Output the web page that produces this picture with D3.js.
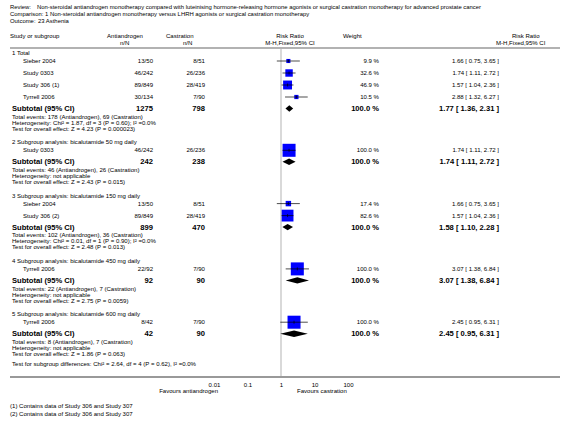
<!DOCTYPE html>
<html><head><meta charset="utf-8">
<script src="https://cdn.jsdelivr.net/npm/d3@7"></script>
<style>body{margin:0;background:#fff} svg text{font-family:"Liberation Sans",Arial,Helvetica,sans-serif;fill:#000}</style>
</head><body><svg id="c" width="566" height="422"></svg>
<script>
// ---------- data ----------
const headerLines = [
  ["Review:", "Non-steroidal antiandrogen monotherapy compared with luteinising hormone-releasing hormone agonists or surgical castration monotherapy for advanced prostate cancer"],
  ["Comparison:", "1 Non-steroidal antiandrogen monotherapy versus LHRH agonists or surgical castration monotherapy"],
  ["Outcome:", "23 Asthenia"]
];
const groupTitles = ["1 Total","2 Subgroup analysis: bicalutamide 50 mg daily","3 Subgroup analysis: bicalutamide 150 mg daily","4 Subgroup analysis: bicalutamide 450 mg daily","5 Subgroup analysis: bicalutamide 600 mg daily"];
const studyNames = ["Sieber 2004","Study 0303","Study 306 (1)","Tyrrell 2006","Study 0303","Sieber 2004","Study 306 (2)","Tyrrell 2006","Tyrrell 2006"];
const studyGroup = [0,0,0,0,1,2,2,3,4];
const antiEvents = [13,46,89,30,46,13,89,22,8];
const antiTotal = [50,242,849,134,242,50,849,92,42];
const castEvents = [8,26,28,7,26,8,28,7,7];
const castTotal = [51,236,419,90,236,51,419,90,90];
const weights = [9.9,32.6,46.9,10.5,100,17.4,82.6,100,100];
const rr = [1.66,1.74,1.57,2.88,1.74,1.66,1.57,3.07,2.45];
const rrLow = [0.75,1.11,1.04,1.32,1.11,0.75,1.04,1.38,0.95];
const rrHigh = [3.65,2.72,2.36,6.27,2.72,3.65,2.36,6.84,6.31];
const subAntiTotal = [1275,242,899,92,42];
const subCastTotal = [798,238,470,90,90];
const subWeight = [100,100,100,100,100];
const subRR = [1.77,1.74,1.58,3.07,2.45];
const subLow = [1.36,1.11,1.10,1.38,0.95];
const subHigh = [2.31,2.72,2.28,6.84,6.31];
const subAntiEvents = [178,46,102,22,8];
const subCastEvents = [69,26,36,7,7];
const heterogeneity = ["Chi² = 1.87, df = 3 (P = 0.60); I² =0.0%","not applicable","Chi² = 0.01, df = 1 (P = 0.90); I² =0.0%","not applicable","not applicable"];
const overallZ = ["4.23","2.43","2.48","2.75","1.86"];
const overallP = ["0.000023","0.015","0.013","0.0059","0.063"];
const subgroupDiff = "Test for subgroup differences: Chi² = 2.64, df = 4 (P = 0.62), I² =0.0%";
const axisTicks = [0.01,0.1,1,10,100];
const tickLabels = ["0.01","0.1","1","10","100"];
const favourLabels = ["Favours antiandrogen","Favours castration"];
const footnotes = ["(1) Contains data of Study 306 and Study 307","(2) Contains data of Study 306 and Study 307"];

// ---------- layout ----------
const svg = d3.select("#c");
const FS = 6.05, FB = 7.6, FH = 5.9;
const x = d3.scaleLog().domain([0.01,100]).range([214,348]);
const f2 = d3.format(".2f"), f1 = d3.format(".1f");
const C = {study:10, name:23, grp:12, anti:153, cast:205, weight:379, rrtxt:499};

function txt(xx, yy, s, opt={}) {
  return svg.append("text").attr("x",xx).attr("y",yy).attr("dy","0.35em")
    .attr("font-size", opt.size||FS).attr("font-weight", opt.bold?"bold":"normal")
    .attr("text-anchor", opt.anchor||"start").text(s);
}

// header
headerLines.forEach((h,i)=>{
  const y = 7 + i*7;
  txt(10,y,h[0],{size:FH});
  txt(i===0?37:(i===1?45:38),y,h[1],{size:FH});
});
txt(10,36,"Study or subgroup");
txt(107,36,"Antiandrogen");
txt(120,43,"n/N");
txt(166,36,"Castration");
txt(183,43,"n/N");
txt(290,36,"Risk Ratio",{anchor:"middle"});
txt(290,43,"M-H,Fixed,95% CI",{anchor:"middle"});
txt(343,36,"Weight");
txt(512,36,"Risk Ratio");
txt(496,43,"M-H,Fixed,95% CI");
svg.append("line").attr("x1",10).attr("x2",560).attr("y1",48).attr("y2",48).attr("stroke","#999").attr("stroke-width",1.6);

// compute row positions
let y = 53;
const studyY = [], subY = [], headY = [], textY = [];
groupTitles.forEach((g,gi)=>{
  headY[gi] = y;
  let sy = y + 8;
  studyGroup.forEach((sg,si)=>{ if(sg===gi){ studyY[si]=sy; sy+=12; } });
  subY[gi] = sy - 12 + 11.5;
  textY[gi] = [subY[gi]+8, subY[gi]+14, subY[gi]+20];
  y = subY[gi] + 33.8;
});
const diffY = textY[4][2] + 10;

// vertical line at RR = 1
svg.append("line").attr("x1",x(1)).attr("x2",x(1)).attr("y1",49).attr("y2",376).attr("stroke","#d9d9d9").attr("stroke-width",2);

// group headings and text
groupTitles.forEach((g,gi)=>{
  txt(C.grp, headY[gi], g);
  txt(C.grp, subY[gi], "Subtotal (95% CI)", {bold:true,size:FB});
  txt(C.anti, subY[gi], subAntiTotal[gi], {bold:true,size:FB,anchor:"end"});
  txt(C.cast, subY[gi], subCastTotal[gi], {bold:true,size:FB,anchor:"end"});
  txt(C.weight, subY[gi], f1(subWeight[gi])+" %", {bold:true,size:FB,anchor:"end"});
  txt(C.rrtxt, subY[gi], `${f2(subRR[gi])} [ ${f2(subLow[gi])}, ${f2(subHigh[gi])} ]`, {bold:true,size:FB,anchor:"end"});
  txt(C.grp, textY[gi][0], `Total events: ${subAntiEvents[gi]} (Antiandrogen), ${subCastEvents[gi]} (Castration)`);
  txt(C.grp, textY[gi][1], `Heterogeneity: ${heterogeneity[gi]}`);
  txt(C.grp, textY[gi][2], `Test for overall effect: Z = ${overallZ[gi]} (P = ${overallP[gi]})`);
  // diamond
  const cy = subY[gi];
  svg.append("path").attr("fill","#000")
    .attr("d", `M${x(subLow[gi])},${cy} L${x(subRR[gi])},${cy-3.2} L${x(subHigh[gi])},${cy} L${x(subRR[gi])},${cy+3.2} Z`);
});

// studies
studyNames.forEach((n,i)=>{
  const yy = studyY[i];
  txt(C.name, yy, n);
  txt(C.anti, yy, `${antiEvents[i]}/${antiTotal[i]}`, {anchor:"end"});
  txt(C.cast, yy, `${castEvents[i]}/${castTotal[i]}`, {anchor:"end"});
  txt(C.weight, yy, f1(weights[i])+" %", {anchor:"end"});
  txt(C.rrtxt, yy, `${f2(rr[i])} [ ${f2(rrLow[i])}, ${f2(rrHigh[i])} ]`, {anchor:"end"});
  const s = 13*Math.sqrt(weights[i]/100);
  svg.append("rect").attr("x",x(rr[i])-s/2).attr("y",yy-s/2).attr("width",s).attr("height",s).attr("fill","#0000ff");
  svg.append("line").attr("x1",x(rrLow[i])).attr("x2",x(rrHigh[i])).attr("y1",yy).attr("y2",yy).attr("stroke","#000").attr("stroke-width",0.7);
  svg.append("line").attr("x1",x(rr[i])).attr("x2",x(rr[i])).attr("y1",yy-1.5).attr("y2",yy+1.5).attr("stroke","#000").attr("stroke-width",0.7);
});

txt(C.grp, diffY, subgroupDiff);
svg.append("line").attr("x1",10).attr("x2",560).attr("y1",377).attr("y2",377).attr("stroke","#777").attr("stroke-width",1.4);

// axis
const ax = svg.append("g").attr("transform","translate(0,381)")
  .call(d3.axisBottom(x).tickValues(axisTicks).tickSize(0).tickFormat((d,i)=>tickLabels[i]));
ax.select(".domain").remove();
ax.selectAll("text").attr("font-size",FS).attr("font-family","Liberation Sans, Arial, sans-serif").attr("dy","0.35em").attr("y",4);

txt(218,391,favourLabels[0],{anchor:"end"});
txt(297,391,favourLabels[1]);
footnotes.forEach((t,i)=>txt(10,406+i*8,t));
</script></body></html>
